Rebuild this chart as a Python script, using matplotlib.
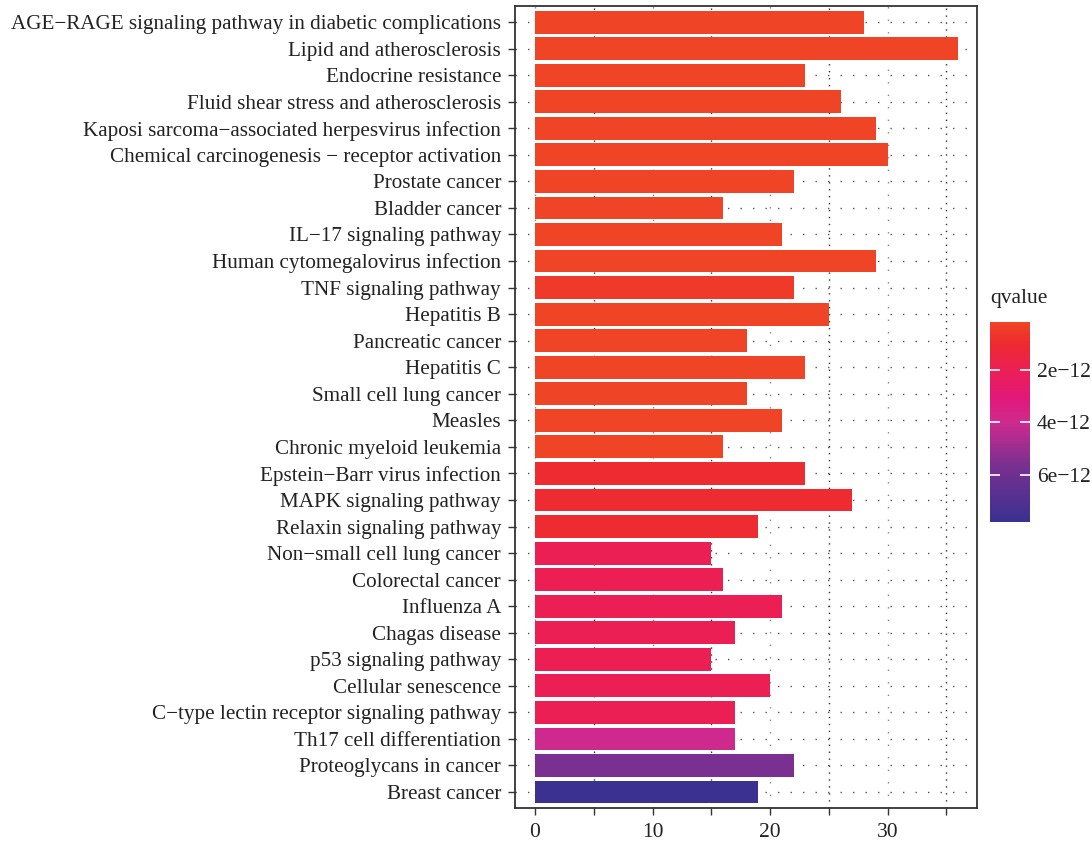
import matplotlib
matplotlib.use("Agg")
import matplotlib.pyplot as plt
from matplotlib.colors import LinearSegmentedColormap, Normalize
from matplotlib.cm import ScalarMappable
from matplotlib.ticker import MultipleLocator

plt.rcParams['font.family'] = ['Liberation Serif', 'DejaVu Serif']

# data (top to bottom)
pathways = [
    "AGE\u2212RAGE signaling pathway in diabetic complications",
    "Lipid and atherosclerosis",
    "Endocrine resistance",
    "Fluid shear stress and atherosclerosis",
    "Kaposi sarcoma\u2212associated herpesvirus infection",
    "Chemical carcinogenesis \u2212 receptor activation",
    "Prostate cancer",
    "Bladder cancer",
    "IL\u221217 signaling pathway",
    "Human cytomegalovirus infection",
    "TNF signaling pathway",
    "Hepatitis B",
    "Pancreatic cancer",
    "Hepatitis C",
    "Small cell lung cancer",
    "Measles",
    "Chronic myeloid leukemia",
    "Epstein\u2212Barr virus infection",
    "MAPK signaling pathway",
    "Relaxin signaling pathway",
    "Non\u2212small cell lung cancer",
    "Colorectal cancer",
    "Influenza A",
    "Chagas disease",
    "p53 signaling pathway",
    "Cellular senescence",
    "C\u2212type lectin receptor signaling pathway",
    "Th17 cell differentiation",
    "Proteoglycans in cancer",
    "Breast cancer",
]
counts = [28, 36, 23, 26, 29, 30, 22, 16, 21, 29,
          22, 25, 18, 23, 18, 21, 16, 23, 27, 19,
          15, 16, 21, 17, 15, 20, 17, 17, 22, 19]
qvalues = [0.2e-12, 0.2e-12, 0.2e-12, 0.2e-12, 0.2e-12, 0.2e-12, 0.2e-12, 0.2e-12, 0.2e-12, 0.2e-12,
           0.5e-12, 0.2e-12, 0.2e-12, 0.2e-12, 0.2e-12, 0.2e-12, 0.2e-12, 1.0e-12, 1.0e-12, 1.0e-12,
           2.0e-12, 2.0e-12, 2.0e-12, 2.0e-12, 2.0e-12, 2.0e-12, 2.0e-12, 4.0e-12, 5.6e-12, 7.8e-12]
q_min, q_max = 0.17e-12, 7.8e-12
cbar_ticks = [2e-12, 4e-12, 6e-12]
cbar_labels = ["2e\u221212", "4e\u221212", "6e\u221212"]

cmap = LinearSegmentedColormap.from_list("qv", [
    (0.0, "#EF4525"), (0.11, "#EE2A30"), (0.24, "#EC1F55"), (0.38, "#E2187A"),
    (0.50, "#CF2A8E"), (0.71, "#7B3090"), (1.0, "#3A3190")])
norm = Normalize(q_min, q_max)

fig = plt.figure(figsize=(10.92, 8.44), dpi=100)
ax = fig.add_axes([0.4716, 0.0427, 0.4231, 0.950])

ypos = list(range(len(pathways)))
ax.barh(ypos, counts, height=0.86, color=[cmap(norm(q)) for q in qvalues], zorder=2)

ax.set_ylim(len(pathways) - 0.4, -0.6)
ax.set_xlim(-1.7, 37.6)
ax.set_yticks(ypos)
ax.set_yticklabels(pathways, fontsize=15.2, color="#222222")
ax.xaxis.set_major_locator(MultipleLocator(10))
ax.xaxis.set_minor_locator(MultipleLocator(5))
ax.tick_params(axis='x', which='both', length=5, width=1, color="#333333",
               labelsize=15.5, labelcolor="#222222", pad=6)
ax.tick_params(axis='y', length=5, width=1, color="#333333", pad=5)
ax.grid(True, which='major', axis='x', linestyle=(0, (1, 8)), color="#888888", lw=1, zorder=0)
ax.grid(True, which='minor', axis='x', linestyle=(0, (1, 4)), color="#333333", lw=1, zorder=0)
ax.grid(True, which='major', axis='y', linestyle=(0, (1, 8)), color="#555555", lw=1, zorder=0)
ax.set_axisbelow(True)
for s in ax.spines.values():
    s.set_color("#333333")
    s.set_linewidth(1.3)

# colorbar
cax = fig.add_axes([0.9066, 0.3815, 0.0366, 0.237])
sm = ScalarMappable(norm=norm, cmap=cmap)
cb = fig.colorbar(sm, cax=cax)
cb.outline.set_visible(False)
cax.invert_yaxis()
cb.set_ticks(cbar_ticks)
cb.set_ticklabels(cbar_labels)
cax.tick_params(left=True, right=True, direction='in', length=7, width=1.2,
                color='white', labelsize=15.5, labelcolor="#222222", pad=5)
cax.text(0.0, 1.07, "qvalue", transform=cax.transAxes, fontsize=15.5,
         color="#222222", ha='left', va='bottom')

fig.savefig("out.png", dpi=100)
